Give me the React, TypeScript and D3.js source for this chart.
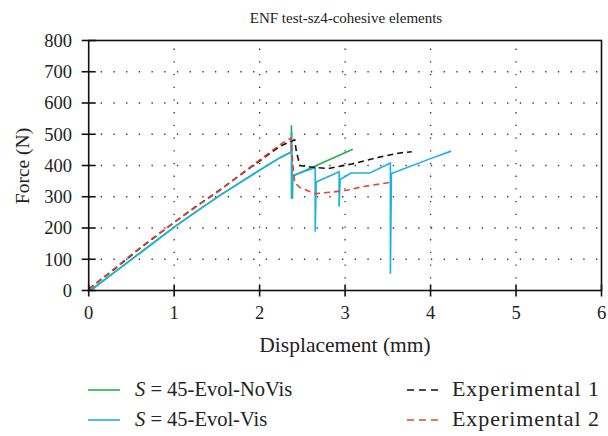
import React from "react";
import * as d3 from "d3";

type P = [number, number];

const title = "ENF test-sz4-cohesive elements";
const xLabel = "Displacement (mm)";
const yLabel = "Force (N)";
const xTicks = [0, 1, 2, 3, 4, 5, 6];
const yTicks = [0, 100, 200, 300, 400, 500, 600, 700, 800];

const noVis: P[] = [
  [0.02, 0], [0.3, 58], [0.6, 120], [1.0, 203], [1.22, 245], [1.54, 305], [2.0, 385], [2.24, 425], [2.37, 443],
  [2.372, 529], [2.384, 294], [2.388, 366], [3.09, 452],
];
const vis: P[] = [
  [0.02, 0], [0.3, 58], [0.6, 120], [1.0, 203], [1.22, 245], [1.54, 305], [2.0, 385], [2.24, 425], [2.37, 443],
  [2.372, 505], [2.372, 294], [2.384, 368], [2.65, 393], [2.65, 188], [2.662, 347], [2.93, 380], [2.93, 268],
  [2.942, 355], [3.07, 376], [3.29, 376], [3.53, 408], [3.53, 54], [3.542, 374], [4.0, 422], [4.24, 446],
];
const exp1: P[] = [
  [0, 5], [0.3, 68], [0.6, 135], [1.0, 218], [1.25, 268], [1.54, 323], [1.89, 393], [2.24, 462], [2.41, 482],
  [2.43, 445], [2.47, 400], [2.6, 395], [2.8, 390], [3.08, 405], [3.45, 430], [3.64, 440], [3.78, 444],
];
const exp2: P[] = [
  [0, 3], [0.3, 70], [0.6, 137], [1.0, 218], [1.25, 267], [1.54, 321], [1.89, 395], [2.24, 467], [2.365, 488],
  [2.375, 455], [2.39, 400], [2.41, 345], [2.47, 330], [2.65, 310], [2.85, 315], [3.02, 321], [3.2, 332], [3.53, 346],
];

const series = [
  { name: "45-Evol-NoVis", data: noVis, color: "#22b14c", dash: "" },
  { name: "45-Evol-Vis", data: vis, color: "#1ab0e8", dash: "" },
  { name: "Experimental 1", data: exp1, color: "#111111", dash: "6,4" },
  { name: "Experimental 2", data: exp2, color: "#e8452e", dash: "6,4" },
];

const FONT = "'Liberation Serif', 'Times New Roman', serif";

export default function App() {
  const x = d3.scaleLinear().domain([0, 6]).range([88.7, 601.5]);
  const y = d3.scaleLinear().domain([0, 800]).range([290.5, 40.5]);
  const line = d3
    .line<P>()
    .x((d) => x(d[0]))
    .y((d) => y(d[1]));
  const [x0, x1] = x.range();
  const [y0, y1] = y.range();

  return (
    <svg
      width={608}
      height={436}
      style={{ position: "absolute", left: 0, top: 0, background: "#fff" }}
      fontFamily={FONT}
    >
      <rect x={0} y={0} width={608} height={436} fill="#fff" />
      <text x={346} y={23} textAnchor="middle" fontSize={15} fill="#222">
        {title}
      </text>
      {/* grid */}
      {yTicks.slice(1, -1).map((t) => (
        <line key={"gy" + t} x1={x0 + 12} x2={x1} y1={y(t)} y2={y(t)} stroke="#333" strokeWidth={1.3} strokeDasharray="1.3,11.4" />
      ))}
      {xTicks.slice(1, -1).map((t) => (
        <line key={"gx" + t} x1={x(t)} x2={x(t)} y1={y0 - 12} y2={y1} stroke="#333" strokeWidth={1.3} strokeDasharray="1.3,11.4" />
      ))}
      {/* series */}
      {series.map((s) => (
        <path
          key={s.name}
          d={line(s.data) || ""}
          fill="none"
          stroke={s.color}
          strokeWidth={1.6}
          strokeDasharray={s.dash || undefined}
          strokeLinejoin="miter"
        />
      ))}
      {/* frame */}
      <rect x={x0} y={y1} width={x1 - x0} height={y0 - y1} fill="none" stroke="#111" strokeWidth={1.6} />
      {/* ticks */}
      {yTicks.map((t) => (
        <g key={"ty" + t}>
          <line x1={x0 - 7} x2={x0 + 7} y1={y(t)} y2={y(t)} stroke="#111" strokeWidth={1.6} />
          <text x={72} y={y(t)} dy="0.35em" textAnchor="end" fontSize={18.5} fill="#222">
            {t}
          </text>
        </g>
      ))}
      {xTicks.map((t) => (
        <g key={"tx" + t}>
          <line x1={x(t)} x2={x(t)} y1={y0 - 6} y2={y0 + 6} stroke="#111" strokeWidth={1.6} />
          <text x={x(t)} y={319} textAnchor="middle" fontSize={18.5} fill="#222">
            {t}
          </text>
        </g>
      ))}
      <text x={345} y={352} textAnchor="middle" fontSize={21.5} fill="#222">
        {xLabel}
      </text>
      <text transform="translate(29,166) rotate(-90)" textAnchor="middle" fontSize={19.5} fill="#222">
        {yLabel}
      </text>
      {/* legend */}
      <line x1={88} x2={120} y1={390} y2={390} stroke={series[0].color} strokeWidth={1.6} />
      <text x={135} y={396} fontSize={20.5} fill="#222">
        <tspan fontStyle="italic">S</tspan> = 45-Evol-NoVis
      </text>
      <line x1={88} x2={120} y1={420} y2={420} stroke={series[1].color} strokeWidth={1.6} />
      <text x={135} y={426} fontSize={20.5} fill="#222">
        <tspan fontStyle="italic">S</tspan> = 45-Evol-Vis
      </text>
      <line x1={407} x2={440} y1={390} y2={390} stroke={series[2].color} strokeWidth={1.6} strokeDasharray="7,5" />
      <text x={452} y={396} fontSize={22} fill="#222" textLength={147} lengthAdjust="spacing">
        {series[2].name}
      </text>
      <line x1={407} x2={440} y1={420} y2={420} stroke={series[3].color} strokeWidth={1.6} strokeDasharray="7,5" />
      <text x={452} y={426} fontSize={22} fill="#222" textLength={147} lengthAdjust="spacing">
        {series[3].name}
      </text>
    </svg>
  );
}
